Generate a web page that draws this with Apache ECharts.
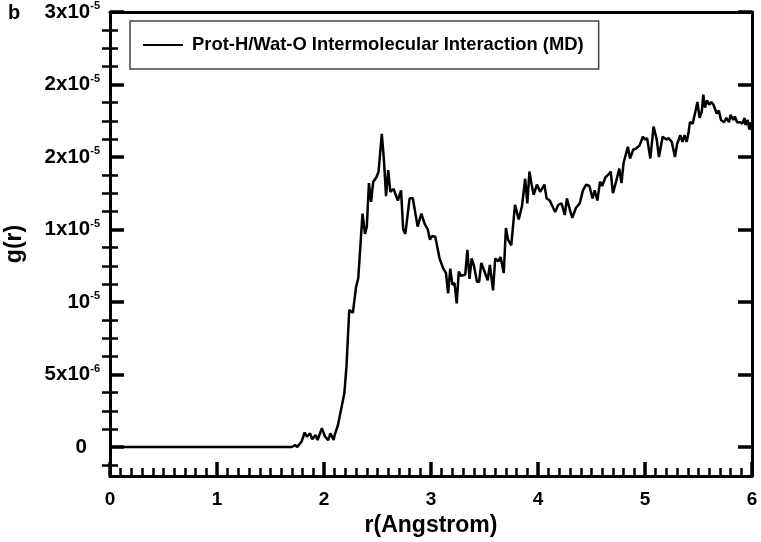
<!DOCTYPE html>
<html lang="en">
<head>
  <meta charset="UTF-8">
  <title>g(r)</title>
  <script src="https://cdn.jsdelivr.net/npm/echarts@6/dist/echarts.min.js"></script>
  <style>
    html, body { margin: 0; padding: 0; background: #fff; }
    #chart { width: 761px; height: 542px; }
  </style>
</head>
<body>
  <div id="chart"></div>
  <script>
    // r in Angstrom, g(r) in units of 1e-6
    const rVals = [0, 1.70, 1.73, 1.75, 1.79, 1.82, 1.84, 1.87, 1.89, 1.92, 1.94, 1.98, 2.01, 2.04, 2.06, 2.09, 2.10,
      2.13, 2.165, 2.19, 2.21, 2.236, 2.27, 2.30, 2.32, 2.36, 2.383, 2.40, 2.42, 2.44, 2.46, 2.49, 2.51, 2.54, 2.56,
      2.58, 2.60, 2.62, 2.65, 2.67, 2.69, 2.72, 2.74, 2.76, 2.80, 2.83, 2.875, 2.91, 2.94, 2.97, 2.99, 3.01, 3.04,
      3.08, 3.115, 3.14, 3.16, 3.18, 3.20, 3.22, 3.24, 3.26, 3.28, 3.32, 3.34, 3.36, 3.38, 3.40, 3.43, 3.45, 3.47,
      3.50, 3.53, 3.55, 3.58, 3.60, 3.63, 3.65, 3.68, 3.70, 3.72, 3.75, 3.785, 3.82, 3.85, 3.88, 3.90, 3.92, 3.94,
      3.96, 3.99, 4.02, 4.06, 4.08, 4.11, 4.16, 4.19, 4.22, 4.25, 4.27, 4.30, 4.32, 4.355, 4.39, 4.42, 4.45, 4.48,
      4.51, 4.53, 4.555, 4.58, 4.60, 4.63, 4.66, 4.68, 4.70, 4.73, 4.76, 4.78, 4.80, 4.84, 4.86, 4.89, 4.92, 4.95,
      4.98, 5.00, 5.02, 5.05, 5.08, 5.11, 5.13, 5.165, 5.20, 5.22, 5.25, 5.28, 5.30, 5.33, 5.35, 5.37, 5.39, 5.405,
      5.42, 5.445, 5.47, 5.49, 5.51, 5.53, 5.545, 5.56, 5.58, 5.60, 5.62, 5.64, 5.67, 5.69, 5.71, 5.74, 5.76, 5.785,
      5.80, 5.825, 5.84, 5.86, 5.89, 5.91, 5.93, 5.94, 5.96, 5.975, 5.99, 6.00]
    const gVals = [0, 0, 0.14, 0, 0.37, 1.0, 0.71, 0.94, 0.53, 0.83, 0.48, 1.29, 0.71, 0.48, 0.94, 0.48, 0.83,
      1.5, 2.78, 3.7, 5.54, 9.45, 9.26, 11.06, 11.63, 16.1, 14.7, 15.2, 18.2, 16.9, 18.3, 18.6, 19.0, 21.6, 19.8,
      17.3, 19.1, 17.6, 17.8, 17.4, 17.0, 17.7, 15.0, 14.7, 17.15, 17.15, 15.2, 16.1, 15.4, 15.0, 14.3, 14.55, 14.5,
      13.0, 12.3, 12.0, 10.6, 12.3, 11.2, 11.3, 9.9, 12.1, 11.8, 11.9, 13.6, 11.6, 13.0, 12.55, 11.4, 11.4, 12.7,
      12.1, 11.5, 12.55, 10.8, 13.0, 12.8, 13.1, 12.0, 15.1, 14.3, 13.9, 16.7, 15.7, 16.6, 18.5, 16.8, 19.0, 18.1,
      17.4, 18.1, 17.6, 18.1, 17.15, 17.0, 16.2, 16.7, 16.8, 16.0, 17.15, 16.3, 15.8, 16.5, 16.8, 17.7, 18.1, 18.0,
      17.15, 17.7, 17.0, 18.3, 18.0, 18.6, 18.8, 19.0, 17.5, 18.3, 19.2, 18.2, 19.6, 20.7, 19.9, 20.5, 20.6, 20.8,
      21.4, 21.2, 21.3, 19.9, 22.1, 21.2, 20.0, 21.4, 21.2, 21.3, 21.05, 20.0, 20.9, 21.5, 21.05, 21.5, 21.05, 21.6,
      22.4, 22.3, 23.1, 23.8, 22.7, 23.1, 24.3, 23.4, 23.9, 23.6, 23.8, 23.6, 23.0, 23.2, 22.55, 22.4, 22.7, 22.4,
      22.9, 22.55, 22.8, 22.4, 22.4, 22.3, 22.7, 22.2, 22.55, 21.9, 22.4, 21.8]

    // y tick positions (1e-6 units) and their labels as printed: base + superscript
    const yTicks = [0, 5, 10, 15, 20, 25, 30]
    const yTickBase = ['0', '5x10', '10', '1x10', '2x10', '2x10', '3x10']
    const yTickExp = ['', '-6', '-5', '-5', '-5', '-5', '-5']
    const yMinorTicks = [-1.25, 1.25, 2.5, 3.75, 6.25, 7.5, 8.75, 11.25, 12.5, 13.75,
      16.25, 17.5, 18.75, 21.25, 22.5, 23.75, 26.25, 27.5, 28.75]

    const seriesName = 'Prot-H/Wat-O Intermolecular Interaction (MD)'
    const FONT = '"Liberation Sans", Arial, sans-serif'

    const chart = echarts.init(document.getElementById('chart'))

    const majorTick = { show: true, inside: true, length: 14, lineStyle: { color: '#000', width: 3.5 } }
    const minorTickStyle = { show: true, inside: true, length: 8, lineStyle: { color: '#000', width: 2.5 } }
    const frameLine = { show: true, onZero: false, lineStyle: { color: '#000', width: 3 } }

    function yAxisBase(pos) {
      return {
        type: 'value', position: pos, min: -2, max: 30, offset: 0,
        splitLine: { show: false }, axisLabel: { show: false }, axisTick: { show: false },
        axisLine: { show: false }
      }
    }

    const option = {
      animation: false,
      backgroundColor: '#fff',
      grid: { left: 110, right: 9, top: 12, bottom: 66, containLabel: false, outerBoundsMode: 'none' },
      legend: {
        data: [seriesName],
        left: 130, top: 21,
        padding: [15, 15, 15, 13],
        borderColor: '#444', borderWidth: 1.5,
        icon: 'rect',
        itemWidth: 40, itemHeight: 2,
        textStyle: { fontFamily: FONT, fontWeight: 'bold', fontSize: 18.4, color: '#000', padding: [0, 0, 0, 4] }
      },
      graphic: [{
        type: 'text', left: 8, top: 3,
        style: { text: 'b', font: 'bold 20px ' + FONT, fill: '#000' }
      }],
      xAxis: [
        {
          type: 'value', position: 'bottom', min: 0, max: 6, interval: 1,
          name: 'r(Angstrom)', nameLocation: 'middle', nameGap: 36,
          nameTextStyle: { fontFamily: FONT, fontWeight: 'bold', fontSize: 23, color: '#000' },
          axisLine: frameLine,
          axisTick: majorTick,
          minorTick: Object.assign({ splitNumber: 10 }, minorTickStyle),
          splitLine: { show: false }, minorSplitLine: { show: false },
          axisLabel: { fontFamily: FONT, fontWeight: 'bold', fontSize: 19, color: '#000', margin: 14 }
        },
        {
          type: 'value', position: 'top', min: 0, max: 6,
          axisLine: frameLine, axisTick: { show: false }, axisLabel: { show: false }, splitLine: { show: false }
        }
      ],
      yAxis: [
        Object.assign(yAxisBase('left'), {
          name: 'g(r)', nameLocation: 'middle', nameGap: 84, nameRotate: 90,
          nameTextStyle: { fontFamily: FONT, fontWeight: 'bold', fontSize: 23, color: '#000' },
          axisLine: frameLine,
          axisTick: Object.assign({ customValues: yTicks }, majorTick),
          axisLabel: {
            show: true, customValues: yTicks, margin: 10,
            formatter: function (v) {
              const i = yTicks.findIndex(t => Math.abs(t - v) < 1e-9)
              if (i < 0) return ''
              if (!yTickExp[i]) return '{b|' + yTickBase[i] + '}{pad|}'
              return '{b|' + yTickBase[i] + '}{e|' + yTickExp[i] + '}'
            },
            rich: {
              b: { fontFamily: FONT, fontWeight: 'bold', fontSize: 20.5, color: '#000', lineHeight: 23 },
              e: { fontFamily: FONT, fontWeight: 'bold', fontSize: 11, color: '#000', verticalAlign: 'top', lineHeight: 12 },
              pad: { width: 13 }
            }
          }
        }),
        Object.assign(yAxisBase('left'), {
          axisTick: Object.assign({ customValues: yMinorTicks }, minorTickStyle)
        }),
        Object.assign(yAxisBase('right'), {
          axisLine: frameLine,
          axisTick: Object.assign({ customValues: yTicks }, majorTick)
        }),
        Object.assign(yAxisBase('right'), {
          axisTick: Object.assign({ customValues: yMinorTicks }, minorTickStyle)
        })
      ],
      series: [{
        name: seriesName,
        type: 'line',
        xAxisIndex: 0, yAxisIndex: 0,
        data: rVals.map((r, i) => [r, gVals[i]]),
        symbol: 'none', showSymbol: false,
        lineStyle: { color: '#000', width: 2.5 },
        itemStyle: { color: '#000' }
      }]
    }

    chart.setOption(option)
  </script>
</body>
</html>
